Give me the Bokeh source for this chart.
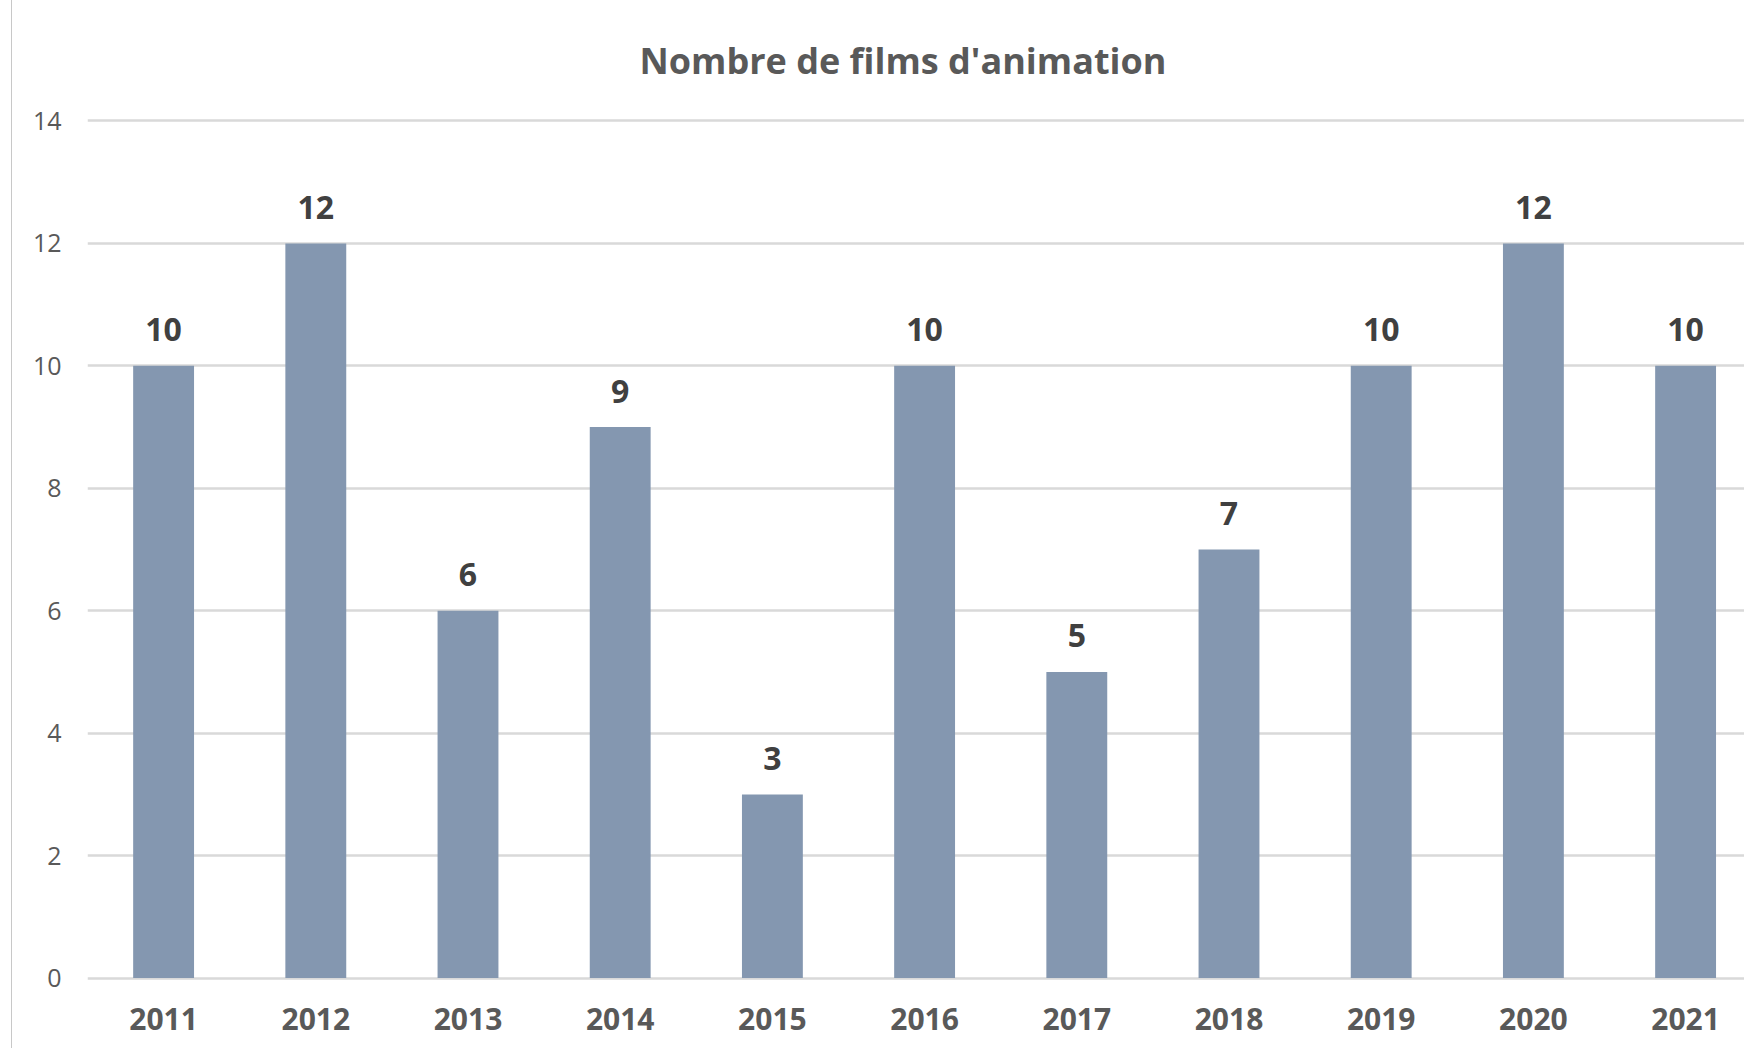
from bokeh.plotting import figure
from bokeh.models import Range1d, FixedTicker, ColumnDataSource
from bokeh.core.properties import value
from bokeh.embed import file_html
from bokeh.resources import INLINE

# ---- data ----
years = ["2011", "2012", "2013", "2014", "2015", "2016", "2017", "2018", "2019", "2020", "2021"]
films = [10, 12, 6, 9, 3, 10, 5, 7, 10, 12, 10]
y_ticks = [0, 2, 4, 6, 8, 10, 12, 14]
title_text = "Nombre de films d'animation"

FONT = "Open Sans"
BAR = "#8497b0"
GRID = "#d9d9d9"
AXIS_TXT = "#595959"
LABEL_TXT = "#404040"

xs = list(range(len(years)))
src = ColumnDataSource(dict(x=xs, top=films, lab=[str(v) for v in films]))

p = figure(width=1744, height=1048, output_backend="svg", toolbar_location=None,
           x_range=Range1d(-0.5, 10.387), y_range=Range1d(-0.04, 14.04),
           min_border_left=87, min_border_right=0, min_border_top=118, min_border_bottom=68)
p.outline_line_color = None
p.background_fill_color = "white"
p.border_fill_color = None

p.title.text = title_text
p.title.text_font = FONT
p.title.text_font_size = "36px"
p.title.text_font_style = "bold"
p.title.text_color = AXIS_TXT
p.title.align = "left"
p.title.offset = 552
p.title.standoff = 67

p.vbar(x="x", top="top", width=0.40, source=src, fill_color=BAR, line_color=None)
p.text(x="x", y="top", text="lab", source=src, text_font=value(FONT), text_font_size="32px",
       text_font_style="bold", text_color=LABEL_TXT, text_align="center",
       text_baseline="alphabetic", y_offset=-36)

# x axis
xa = p.xaxis[0]
xa.ticker = FixedTicker(ticks=xs)
xa.major_label_overrides = {i: y for i, y in zip(xs, years)}
xa.axis_line_color = None
xa.major_tick_line_color = None
xa.minor_tick_line_color = None
xa.major_label_text_font = FONT
xa.major_label_text_font_size = "30px"
xa.major_label_text_font_style = "bold"
xa.major_label_text_color = AXIS_TXT
xa.major_label_standoff = 21

# y axis
ya = p.yaxis[0]
ya.ticker = FixedTicker(ticks=y_ticks)
ya.axis_line_color = None
ya.major_tick_line_color = None
ya.minor_tick_line_color = None
ya.major_label_text_font = FONT
ya.major_label_text_font_size = "25px"
ya.major_label_text_color = AXIS_TXT
ya.major_label_standoff = 20

p.xgrid.grid_line_color = None
p.ygrid.grid_line_color = GRID
p.ygrid.grid_line_width = 2.5
p.ygrid.ticker = FixedTicker(ticks=y_ticks)

p.styles = {"background": "linear-gradient(to right, white 11px, #c8c8c8 11px, #c8c8c8 12px, white 12px)"}

open("out.html", "w").write(file_html(p, INLINE))
